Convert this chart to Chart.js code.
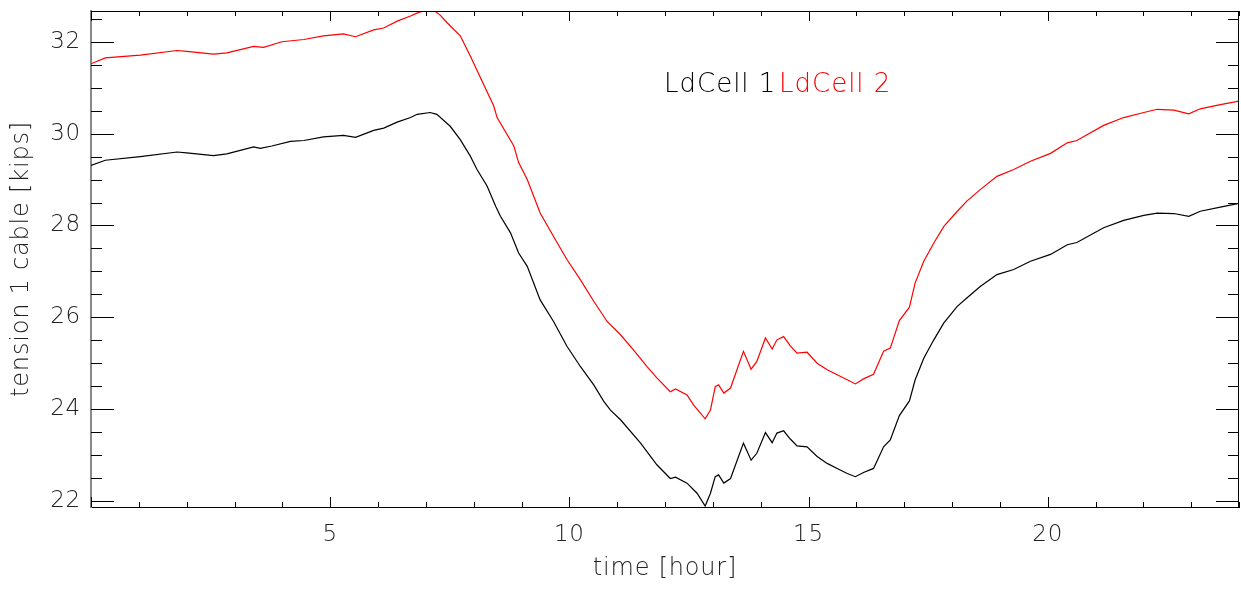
<!DOCTYPE html>
<html>
<head>
<meta charset="utf-8">
<script src="https://cdn.jsdelivr.net/npm/chart.js@4.4.1/dist/chart.umd.min.js"></script>
<style>
  html, body { margin: 0; padding: 0; background: #fff; }
  canvas { display: block; }
</style>
</head>
<body>
<canvas id="tensionChart" width="1241" height="589"></canvas>
<script>
// time [hour] and load cell readings [kips]
const timeCell1 = [0, 0.30, 1.03, 1.80, 2.00, 2.56, 2.84, 3.40, 3.54, 3.78, 4.17, 4.45, 4.86, 5.28, 5.53, 5.91, 6.12, 6.40, 6.68, 6.82, 7.09, 7.23, 7.51, 7.72, 7.93, 8.07, 8.28, 8.46, 8.56, 8.77, 8.94, 9.12, 9.39, 9.67, 9.95, 10.23, 10.51, 10.72, 10.86, 11.07, 11.49, 11.83, 12.11, 12.22, 12.46, 12.67, 12.84, 12.95, 13.05, 13.12, 13.23, 13.37, 13.64, 13.80, 13.92, 14.10, 14.24, 14.34, 14.48, 14.62, 14.76, 14.97, 15.18, 15.39, 15.60, 15.81, 15.98, 16.15, 16.36, 16.57, 16.71, 16.90, 17.11, 17.23, 17.41, 17.62, 17.83, 18.11, 18.31, 18.59, 18.94, 19.29, 19.64, 20.06, 20.41, 20.61, 21.17, 21.59, 22.01, 22.29, 22.64, 22.95, 23.19, 23.61, 24.00];
const cell1 = [29.31, 29.42, 29.50, 29.60, 29.58, 29.52, 29.56, 29.71, 29.68, 29.73, 29.83, 29.85, 29.93, 29.96, 29.92, 30.07, 30.12, 30.25, 30.35, 30.42, 30.46, 30.42, 30.16, 29.87, 29.51, 29.22, 28.86, 28.42, 28.20, 27.84, 27.40, 27.11, 26.38, 25.91, 25.37, 24.93, 24.53, 24.17, 23.98, 23.77, 23.26, 22.79, 22.49, 22.52, 22.39, 22.17, 21.89, 22.17, 22.53, 22.57, 22.39, 22.49, 23.26, 22.89, 23.04, 23.49, 23.27, 23.48, 23.53, 23.35, 23.20, 23.18, 22.97, 22.82, 22.71, 22.60, 22.53, 22.62, 22.71, 23.18, 23.33, 23.86, 24.18, 24.64, 25.11, 25.51, 25.88, 26.24, 26.42, 26.67, 26.93, 27.04, 27.22, 27.37, 27.58, 27.63, 27.95, 28.11, 28.22, 28.27, 28.26, 28.20, 28.31, 28.40, 28.48];

const timeCell2 = [0, 0.30, 1.03, 1.80, 2.00, 2.56, 2.84, 3.40, 3.61, 3.99, 4.45, 4.86, 5.28, 5.53, 5.91, 6.12, 6.40, 6.68, 6.85, 7.02, 7.16, 7.30, 7.44, 7.72, 7.93, 8.14, 8.42, 8.49, 8.84, 8.94, 9.12, 9.39, 9.67, 9.95, 10.23, 10.51, 10.79, 11.07, 11.34, 11.62, 11.83, 12.11, 12.22, 12.46, 12.60, 12.84, 12.95, 13.05, 13.12, 13.23, 13.37, 13.64, 13.80, 13.92, 14.10, 14.24, 14.34, 14.48, 14.62, 14.76, 14.97, 15.18, 15.39, 15.60, 15.81, 15.98, 16.15, 16.36, 16.57, 16.71, 16.90, 17.11, 17.23, 17.41, 17.62, 17.83, 18.11, 18.31, 18.59, 18.94, 19.29, 19.64, 20.06, 20.41, 20.61, 21.17, 21.59, 22.01, 22.29, 22.64, 22.95, 23.19, 23.61, 24.00];
const cell2 = [31.52, 31.65, 31.71, 31.81, 31.79, 31.73, 31.76, 31.90, 31.88, 32.00, 32.05, 32.13, 32.17, 32.11, 32.26, 32.30, 32.45, 32.56, 32.64, 32.69, 32.69, 32.58, 32.42, 32.13, 31.69, 31.22, 30.60, 30.35, 29.73, 29.37, 29.00, 28.27, 27.76, 27.26, 26.82, 26.35, 25.91, 25.62, 25.29, 24.93, 24.68, 24.38, 24.44, 24.31, 24.09, 23.79, 23.98, 24.49, 24.53, 24.35, 24.46, 25.26, 24.87, 25.04, 25.55, 25.31, 25.51, 25.58, 25.38, 25.22, 25.24, 25.00, 24.86, 24.75, 24.64, 24.55, 24.66, 24.76, 25.26, 25.33, 25.93, 26.22, 26.75, 27.22, 27.62, 27.98, 28.31, 28.53, 28.78, 29.07, 29.22, 29.40, 29.57, 29.80, 29.85, 30.18, 30.35, 30.46, 30.53, 30.51, 30.43, 30.54, 30.63, 30.71];

const seriesLabels = ["LdCell 1", "LdCell 2"];
const xTickValues = [5, 10, 15, 20];
const yTickValues = [22, 24, 26, 28, 30, 32];

const FONT = "DejaVu Sans";
const TEXT = "#222";

function toPoints(xs, ys) {
  return xs.map((x, i) => ({ x: x, y: ys[i] }));
}

// the original font is wide and thin, so space the letters out a bit
const spacing = {
  id: "spacing",
  beforeInit(chart) { chart.ctx.letterSpacing = "0.8px"; },
  beforeDraw(chart) { chart.ctx.letterSpacing = "0.8px"; }
};

// IDL style: tick marks pointing inward on all four sides, plus a legend in the plot
const insideTicks = {
  id: "insideTicks",
  afterDraw(chart) {
    const ctx = chart.ctx;
    const a = chart.chartArea;
    const xs = chart.scales.x;
    const ys = chart.scales.y;
    ctx.save();
    ctx.strokeStyle = "#000";
    ctx.lineWidth = 1;
    ctx.beginPath();
    ctx.moveTo(a.left, a.top + 0.5);
    ctx.lineTo(a.right, a.top + 0.5);
    ctx.moveTo(a.right - 0.5, a.top);
    ctx.lineTo(a.right - 0.5, a.bottom);
    for (let h = 0; h <= 24; h++) {
      const len = h % 5 === 0 ? 10 : 5;
      const px = Math.round(xs.getPixelForValue(h)) + 0.5;
      ctx.moveTo(px, a.bottom);
      ctx.lineTo(px, a.bottom - len);
      ctx.moveTo(px, a.top);
      ctx.lineTo(px, a.top + len);
    }
    for (let v = 22; v <= 32.5; v += 0.5) {
      const len = v % 2 === 0 ? 23 : 11;
      const py = Math.round(ys.getPixelForValue(v)) + 0.5;
      ctx.moveTo(a.left, py);
      ctx.lineTo(a.left + len, py);
      ctx.moveTo(a.right, py);
      ctx.lineTo(a.right - len, py);
    }
    ctx.stroke();

    ctx.font = "200 26px '" + FONT + "'";
    ctx.letterSpacing = "1px";
    ctx.textBaseline = "alphabetic";
    ctx.fillStyle = chart.data.datasets[0].borderColor;
    ctx.fillText(seriesLabels[0], 664, 92);
    ctx.fillStyle = chart.data.datasets[1].borderColor;
    ctx.fillText(seriesLabels[1], 779, 92);
    ctx.restore();
  }
};

const ctx = document.getElementById("tensionChart").getContext("2d");
new Chart(ctx, {
  type: "line",
  data: {
    datasets: [
      {
        label: seriesLabels[0],
        data: toPoints(timeCell1, cell1),
        borderColor: "#000000",
        borderWidth: 1.2,
        pointRadius: 0,
        tension: 0,
        fill: false
      },
      {
        label: seriesLabels[1],
        data: toPoints(timeCell2, cell2),
        borderColor: "#ff0000",
        borderWidth: 1.2,
        pointRadius: 0,
        tension: 0,
        fill: false
      }
    ]
  },
  options: {
    responsive: false,
    animation: false,
    devicePixelRatio: 1,
    layout: { padding: { top: 11, right: 2, left: 0, bottom: 0 } },
    plugins: {
      legend: { display: false },
      tooltip: { enabled: false }
    },
    scales: {
      x: {
        type: "linear",
        min: 0,
        max: 24,
        afterFit: (s) => { s.height = 82; s.paddingLeft = 0; s.paddingRight = 0; },
        afterBuildTicks: (s) => { s.ticks = xTickValues.map((v) => ({ value: v })); },
        grid: { display: false, drawTicks: false },
        border: { display: true, color: "#000", width: 1 },
        ticks: {
          color: TEXT,
          padding: 14,
          maxRotation: 0,
          font: { family: FONT, size: 23, weight: 200 }
        },
        title: {
          display: true,
          text: "time [hour]",
          color: TEXT,
          padding: { top: 0, bottom: 6 },
          font: { family: FONT, size: 24, weight: 200 }
        }
      },
      y: {
        type: "linear",
        min: 21.87,
        max: 32.67,
        afterFit: (s) => { s.width = 91; s.paddingTop = 0; s.paddingBottom = 0; },
        afterBuildTicks: (s) => { s.ticks = yTickValues.map((v) => ({ value: v })); },
        grid: { display: false, drawTicks: false },
        border: { display: true, color: "#888", width: 2 },
        ticks: {
          color: TEXT,
          padding: 10,
          font: { family: FONT, size: 23, weight: 200 }
        },
        title: {
          display: true,
          text: "tension 1 cable [kips]",
          color: TEXT,
          padding: { top: 7, bottom: 0 },
          font: { family: FONT, size: 24, weight: 200 }
        }
      }
    }
  },
  plugins: [spacing, insideTicks]
});
</script>
</body>
</html>
